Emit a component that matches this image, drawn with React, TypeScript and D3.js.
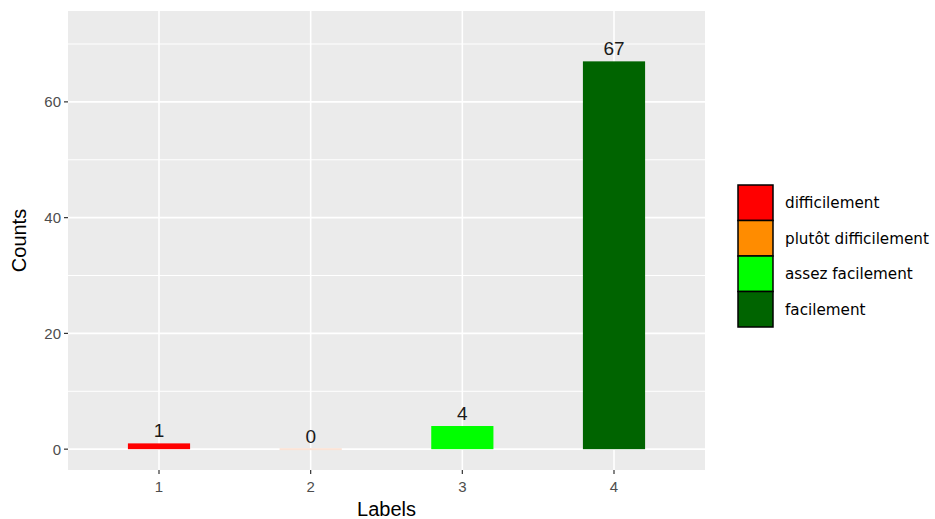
import React from "react";
import * as d3 from "d3";

const categories = ["1", "2", "3", "4"];
const counts = [1, 0, 4, 67];
const legendLabels = ["difficilement", "plutôt difficilement", "assez facilement", "facilement"];
const colors = ["#FF0000", "#FF8C00", "#00FF00", "#006400"];
const yTicks = [0, 20, 40, 60];
const yMinor = [10, 30, 50, 70];

export default function App() {
  const W = 935, H = 519;
  const panel = { l: 68, r: 705, t: 11, b: 470 };
  // discrete x axis with 0.6 expansion on each side
  const xc = d3.scaleLinear().domain([0.4, 4.6]).range([panel.l, panel.r]);
  const y = d3.scaleLinear().domain([-3.6, 75.7]).range([panel.b, panel.t]);
  const font = "'Liberation Sans', Arial, Helvetica, sans-serif";
  const legendFont = "'DejaVu Sans', Verdana, sans-serif";
  const bw = 0.41;
  return (
    <svg width={W} height={H} style={{ position: "absolute", left: 0, top: 0, background: "#fff" }} fontFamily={font}>
      <rect x={panel.l} y={panel.t} width={panel.r - panel.l} height={panel.b - panel.t} fill="#EBEBEB" />
      {yMinor.map((v) => (
        <line key={"m" + v} x1={panel.l} x2={panel.r} y1={y(v)} y2={y(v)} stroke="#fff" strokeWidth={1} />
      ))}
      {yTicks.map((v) => (
        <line key={"g" + v} x1={panel.l} x2={panel.r} y1={y(v)} y2={y(v)} stroke="#fff" strokeWidth={1.6} />
      ))}
      {categories.map((c, i) => (
        <line key={"v" + c} x1={xc(i + 1)} x2={xc(i + 1)} y1={panel.t} y2={panel.b} stroke="#fff" strokeWidth={1.6} />
      ))}
      {counts.map((v, i) => {
        const x0 = xc(i + 1 - bw / 2), x1 = xc(i + 1 + bw / 2);
        if (v === 0) {
          return <rect key={"b" + i} x={x0} y={y(0) - 1} width={x1 - x0} height={2} fill="#FBE3D6" />;
        }
        return <rect key={"b" + i} x={x0} y={y(v)} width={x1 - x0} height={y(0) - y(v)} fill={colors[i]} />;
      })}
      {counts.map((v, i) => (
        <text key={"t" + i} x={xc(i + 1)} y={y(v) - 6.5} textAnchor="middle" fontSize={19} fill="#1a1a1a">{v}</text>
      ))}
      {yTicks.map((v) => (
        <g key={"yt" + v}>
          <line x1={panel.l - 4} x2={panel.l} y1={y(v)} y2={y(v)} stroke="#333" strokeWidth={1.2} />
          <text x={panel.l - 7} y={y(v)} dy="0.36em" textAnchor="end" fontSize={15} fill="#4D4D4D">{v}</text>
        </g>
      ))}
      {categories.map((c, i) => (
        <g key={"xt" + c}>
          <line x1={xc(i + 1)} x2={xc(i + 1)} y1={panel.b} y2={panel.b + 4} stroke="#333" strokeWidth={1.2} />
          <text x={xc(i + 1)} y={panel.b + 22} textAnchor="middle" fontSize={15} fill="#4D4D4D">{c}</text>
        </g>
      ))}
      <text x={(panel.l + panel.r) / 2} y={516} textAnchor="middle" fontSize={20} fill="#000">Labels</text>
      <text transform={`translate(26,${(panel.t + panel.b) / 2}) rotate(-90)`} textAnchor="middle" fontSize={20} fill="#000">Counts</text>
      {legendLabels.map((lab, i) => {
        const ky = 185 + i * 35.5;
        return (
          <g key={"lg" + i}>
            <rect x={738} y={ky} width={35} height={35.5} fill={colors[i]} stroke="#000" strokeWidth={1.5} />
            <text x={785} y={ky + 17.75} dy="0.36em" fontSize={15.2} fill="#000" fontFamily={legendFont}>{lab}</text>
          </g>
        );
      })}
    </svg>
  );
}
